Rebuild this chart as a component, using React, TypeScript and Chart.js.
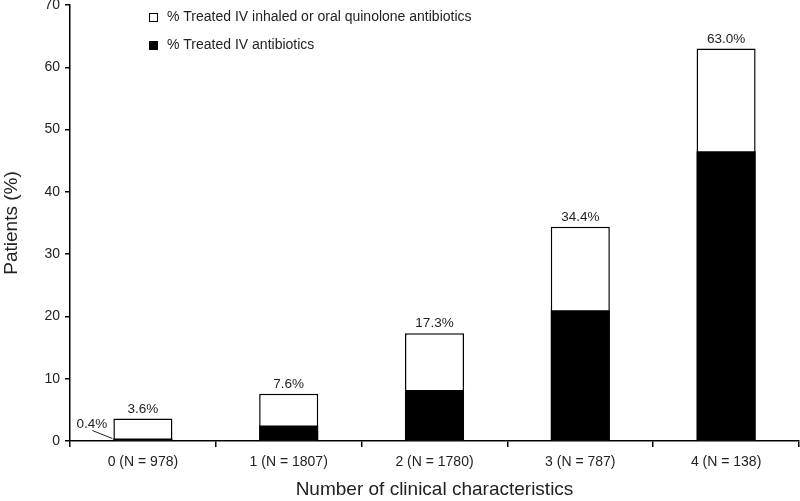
import React, { useEffect, useRef } from "react";
import { Chart, registerables } from "chart.js";

Chart.register(...registerables);

const categories = ["0 (N = 978)", "1 (N = 1807)", "2 (N = 1780)", "3 (N = 787)", "4 (N = 138)"];
const totalTreated = [3.6, 7.6, 17.3, 34.4, 63.0];
const ivTreated = [0.4, 2.5, 8.2, 21.0, 46.5];
const totalLabels = ["3.6%", "7.6%", "17.3%", "34.4%", "63.0%"];
const ivLabelFirst = "0.4%";
const legendLabels = ["% Treated IV inhaled or oral quinolone antibiotics", "% Treated IV antibiotics"];

const FONT = "'Liberation Sans', Arial, sans-serif";
const TXT = "#222";

const labelPlugin = {
  id: "labels",
  afterDatasetsDraw(chart: any) {
    const ctx = chart.ctx;
    const meta = chart.getDatasetMeta(1);
    ctx.save();
    ctx.fillStyle = TXT;
    ctx.font = `13.5px ${FONT}`;
    ctx.textAlign = "center";
    ctx.textBaseline = "bottom";
    meta.data.forEach((bar: any, i: number) => {
      ctx.fillText(totalLabels[i], bar.x, bar.y - 3);
    });
    // 0.4% label with leader line
    const b0 = chart.getDatasetMeta(0).data[0];
    const left0 = b0.x - b0.width / 2;
    ctx.textAlign = "right";
    ctx.textBaseline = "middle";
    ctx.fillText(ivLabelFirst, left0 - 6, b0.y - 14);
    ctx.strokeStyle = "#222";
    ctx.lineWidth = 1;
    ctx.beginPath();
    ctx.moveTo(left0 - 21, b0.y - 8);
    ctx.lineTo(left0 - 1, b0.y);
    ctx.stroke();
    // legend
    const area = chart.chartArea;
    const lx = area.left + 79;
    const ys = [area.top + 12.5, area.top + 40.5];
    ctx.font = `14px ${FONT}`;
    ctx.textAlign = "left";
    ctx.textBaseline = "middle";
    ys.forEach((y, i) => {
      ctx.fillStyle = i === 0 ? "#fff" : "#000";
      ctx.fillRect(lx, y - 4.5, 9, 9);
      ctx.strokeStyle = "#000";
      ctx.lineWidth = 1;
      ctx.strokeRect(lx + 0.5, y - 4, 8, 8);
      ctx.fillStyle = TXT;
      ctx.fillText(legendLabels[i], lx + 18, y);
    });
    ctx.restore();
  },
};

export default function App() {
  const ref = useRef<HTMLCanvasElement>(null);
  useEffect(() => {
    document.body.style.margin = "0";
    const chart = new Chart(ref.current!, {
      type: "bar",
      data: {
        labels: categories,
        datasets: [
          {
            label: legendLabels[1],
            data: ivTreated,
            backgroundColor: "#000",
            borderWidth: 0,
            grouped: false,
            barPercentage: 0.405,
            categoryPercentage: 1,
          } as any,
          {
            label: legendLabels[0],
            data: totalTreated,
            backgroundColor: "#fff",
            borderColor: "#000",
            borderWidth: 1.5,
            grouped: false,
            barPercentage: 0.405,
            categoryPercentage: 1,
          } as any,
        ],
      },
      options: {
        animation: false,
        responsive: false,
        maintainAspectRatio: false,
        layout: { padding: { top: 5, right: 1, left: 0, bottom: 0 } },
        plugins: { legend: { display: false }, tooltip: { enabled: false } },
        scales: {
          x: {
            grid: { offset: true, drawOnChartArea: false, color: "#000", tickLength: 6, lineWidth: 1.5 },
            border: { color: "#000", width: 1.5 },
            ticks: { color: TXT, font: { family: FONT, size: 14 }, padding: 7 },
            title: { display: true, text: "Number of clinical characteristics", color: TXT, font: { family: FONT, size: 19 }, padding: { top: 0, bottom: 0 } },
            afterFit(scale: any) {
              scale.height = 60;
              scale.paddingLeft = 0;
              scale.paddingRight = 0;
            },
          },
          y: {
            min: 0,
            max: 70,
            ticks: { stepSize: 10, color: TXT, font: { family: FONT, size: 14 }, padding: 5 },
            grid: { drawOnChartArea: false, color: "#000", tickLength: 5, lineWidth: 1.5 },
            border: { color: "#000", width: 1.5 },
            title: { display: true, text: "Patients (%)", color: TXT, font: { family: FONT, size: 19 }, padding: { top: 0, bottom: 0 } },
            afterFit(scale: any) {
              scale.width = 70;
              scale.paddingTop = 0;
              scale.paddingBottom = 0;
            },
          },
        },
      },
      plugins: [labelPlugin],
    });
    return () => chart.destroy();
  }, []);
  return (
    <div style={{ width: 800, height: 501 }}>
      <canvas ref={ref} width={800} height={501} style={{ display: "block" }} />
    </div>
  );
}
